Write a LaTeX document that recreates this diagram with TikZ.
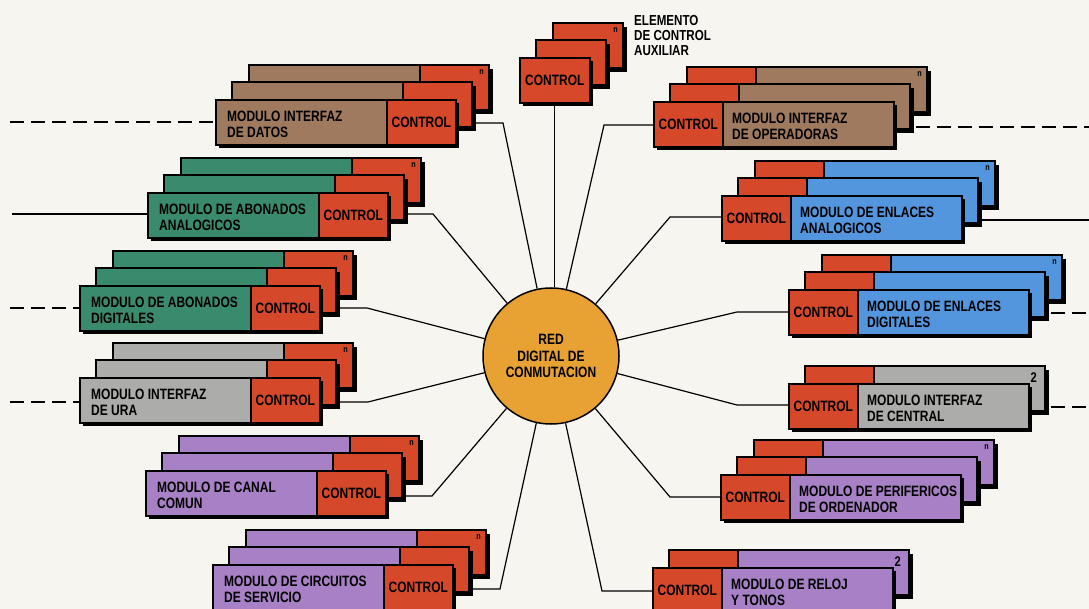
\documentclass[tikz,border=0pt]{standalone}
\usepackage{fontspec}
\newfontfamily\condfam[FakeStretch=0.8]{Liberation Sans}
\pgfdeclarelayer{bg}
\pgfdeclarelayer{background}
\pgfsetlayers{bg,background,main}
\definecolor{ctrlred}{RGB}{214,72,42}
\definecolor{brownc}{RGB}{160,122,94}
\definecolor{greenc}{RGB}{58,138,110}
\definecolor{grayc}{RGB}{172,172,170}
\definecolor{bluec}{RGB}{84,150,222}
\definecolor{purplec}{RGB}{168,128,198}
\definecolor{orangec}{RGB}{232,162,52}
\definecolor{bgc}{RGB}{247,245,240}
\newcommand{\modfont}{\condfam\bfseries\fontsize{15}{15.5}\selectfont}
\tikzset{
  boxline/.style={draw=black, line width=1.7pt},
  slabpart/.style={boxline, inner sep=0pt, minimum height=45pt, anchor=north west, font=\modfont},
  ctrlpart/.style={slabpart, fill=ctrlred, minimum width=69pt},
  mainpart/.style={slabpart, minimum width=171pt},
  labtext/.style={anchor=west, align=left, inner sep=0pt, font=\modfont},
  conn/.style={draw=black, line width=1.2pt},
  extline/.style={draw=black, line width=1.5pt},
  extdash/.style={extline, dash pattern=on 14pt off 7pt},
  nlab/.style={font=\condfam\bfseries\fontsize{9}{9}\selectfont, anchor=north east, inner sep=0pt},
  twolab/.style={font=\condfam\bfseries\fontsize{14}{14}\selectfont, anchor=north east, inner sep=0pt},
}
% back slab: x, y, colour, side (0 = control right, 1 = control left)
\newcommand{\slab}[4]{%
  \fill[black] (#1+4,#2+4) rectangle (#1+244,#2+49);
  \ifnum#4=0
    \filldraw[boxline, fill=#3] (#1,#2) rectangle (#1+171,#2+45);
    \filldraw[boxline, fill=ctrlred] (#1+171,#2) rectangle (#1+240,#2+45);
  \else
    \filldraw[boxline, fill=ctrlred] (#1,#2) rectangle (#1+69,#2+45);
    \filldraw[boxline, fill=#3] (#1+69,#2) rectangle (#1+240,#2+45);
  \fi
}
\newcommand{\copylabel}[4]{% name, x, y, copies
  \pgfmathsetmacro\lx{#2+17*(#4-1)+240}%
  \pgfmathsetmacro\ly{#3-17*(#4-1)}%
  \ifnum#4>2
    \node[nlab] (#1N) at (\lx-5,\ly+4.5) {n};
  \else
    \node[twolab] (#1N) at (\lx-8,\ly+7) {2};
  \fi
}
% module with control on the right
\newcommand{\modL}[6]{% name, x, y, colour, text, copies
  \ifnum#6>2 \slab{#2+34}{#3-34}{#4}{0}\fi
  \slab{#2+17}{#3-17}{#4}{0}
  \fill[black] (#2+4,#3+4) rectangle (#2+244,#3+49);
  \node[mainpart, fill=#4] (#1M) at (#2,#3) {};
  \node[ctrlpart] (#1C) at (#2+171,#3) {CONTROL};
  \node[labtext] (#1T) at ([xshift=12pt,yshift=-2pt]#1M.west) {#5};
  \copylabel{#1}{#2}{#3}{#6}
}
% module with control on the left
\newcommand{\modR}[6]{% name, x, y, colour, text, copies
  \ifnum#6>2 \slab{#2+34}{#3-34}{#4}{1}\fi
  \slab{#2+17}{#3-17}{#4}{1}
  \fill[black] (#2+4,#3+4) rectangle (#2+244,#3+49);
  \node[ctrlpart] (#1C) at (#2,#3) {CONTROL};
  \node[mainpart, fill=#4] (#1M) at (#2+69,#3) {};
  \node[labtext] (#1T) at ([xshift=10pt,yshift=-2pt]#1M.west) {#5};
  \copylabel{#1}{#2}{#3}{#6}
}
\begin{document}
\begin{tikzpicture}[x=1pt,y=-1pt]
\useasboundingbox (0,0) rectangle (1089,609);
\begin{pgfonlayer}{bg}
  \fill[bgc] (0,0) rectangle (1089,609);
\end{pgfonlayer}

% central network
\node[circle, draw=black, line width=1.5pt, fill=orangec, minimum size=136pt, inner sep=0pt,
      font=\condfam\bfseries\fontsize{15}{16.5}\selectfont, align=center] (red) at (551,356)
      {RED\\DIGITAL DE\\CONMUTACION};

% auxiliary control element
\fill[black] (553+4,23+4) rectangle (553+74,23+49);
\filldraw[boxline, fill=ctrlred] (553,23) rectangle (623,68);
\fill[black] (536+4,40+4) rectangle (536+74,40+49);
\filldraw[boxline, fill=ctrlred] (536,40) rectangle (606,85);
\fill[black] (519+4,57+4) rectangle (519+74,57+49);
\node[ctrlpart, minimum width=70pt] (elemC) at (519,57) {CONTROL};
\node[nlab] (elemN) at (618,27.5) {n};
\node[anchor=north west, align=left, inner sep=0pt,
      font=\condfam\bfseries\fontsize{14.5}{15}\selectfont] (elemT) at (634,15)
      {ELEMENTO\\DE CONTROL\\AUXILIAR};

% left modules
\modL{datos}{215}{99}{brownc}{MODULO INTERFAZ\\DE DATOS}{3}
\modL{aban}{147}{192}{greenc}{MODULO DE ABONADOS\\ANALOGICOS}{3}
\modL{abdig}{79}{285}{greenc}{MODULO DE ABONADOS\\DIGITALES}{3}
\modL{ura}{79}{377}{grayc}{MODULO INTERFAZ\\DE URA}{3}
\modL{canal}{145}{470}{purplec}{MODULO DE CANAL\\COMUN}{3}
\modL{circ}{212}{564}{purplec}{MODULO DE CIRCUITOS\\DE SERVICIO}{3}

% right modules
\modR{oper}{653}{101}{brownc}{MODULO INTERFAZ\\DE OPERADORAS}{3}
\modR{enan}{721}{195}{bluec}{MODULO DE ENLACES\\ANALOGICOS}{3}
\modR{endig}{788}{289}{bluec}{MODULO DE ENLACES\\DIGITALES}{3}
\modR{cent}{788}{383}{grayc}{MODULO INTERFAZ\\DE CENTRAL}{2}
\modR{perif}{720}{474}{purplec}{MODULO DE PERIFERICOS\\DE ORDENADOR}{3}
\modR{reloj}{652}{567}{purplec}{MODULO DE RELOJ\\Y TONOS}{2}

% bends and free ends
\coordinate (datosB) at (503,123);
\coordinate (abanB) at (433,214);
\coordinate (abdigB) at (367,308);
\coordinate (uraB) at (368,402);
\coordinate (canalB) at (432,496);
\coordinate (circB) at (500,589);
\coordinate (operB) at (604,125);
\coordinate (enanB) at (670,217);
\coordinate (endigB) at (737,312);
\coordinate (centB) at (737,405);
\coordinate (perifB) at (670,497);
\coordinate (relojB) at (602,591);
\coordinate (datosX) at (10,122);
\coordinate (abanX) at (12,214);
\coordinate (abdigX) at (10,308);
\coordinate (uraX) at (10,402);
\coordinate (operX) at (1089,127);
\coordinate (enanX) at (1089,220);
\coordinate (endigX) at (1089,313);
\coordinate (centX) at (1089,407);

\begin{pgfonlayer}{background}
  \draw[conn] (elemC.south) -- (red.north -| elemC.south);
  \draw[conn] (datosC.east |- datosB) -- (datosB) -- (red);
  \draw[conn] (abanC.east |- abanB) -- (abanB) -- (red);
  \draw[conn] (abdigC.east |- abdigB) -- (abdigB) -- (red);
  \draw[conn] (uraC.east |- uraB) -- (uraB) -- (red);
  \draw[conn] (canalC.east |- canalB) -- (canalB) -- (red);
  \draw[conn] (circC.east |- circB) -- (circB) -- (red);
  \draw[conn] (operC.west |- operB) -- (operB) -- (red);
  \draw[conn] (enanC.west |- enanB) -- (enanB) -- (red);
  \draw[conn] (endigC.west |- endigB) -- (endigB) -- (red);
  \draw[conn] (centC.west |- centB) -- (centB) -- (red);
  \draw[conn] (perifC.west |- perifB) -- (perifB) -- (red);
  \draw[conn] (relojC.west |- relojB) -- (relojB) -- (red);
  \draw[extdash] (datosX) -- (datosM.west |- datosX);
  \draw[extline] (abanX) -- (abanM.west |- abanX);
  \draw[extdash] (abdigX) -- (abdigM.west |- abdigX);
  \draw[extdash] (uraX) -- (uraM.west |- uraX);
  \draw[extdash] (operM.east |- operX) -- (operX);
  \draw[extline] (enanM.east |- enanX) -- (enanX);
  \draw[extdash] (endigM.east |- endigX) -- (endigX);
  \draw[extdash] (centM.east |- centX) -- (centX);
\end{pgfonlayer}
\end{tikzpicture}
\end{document}
